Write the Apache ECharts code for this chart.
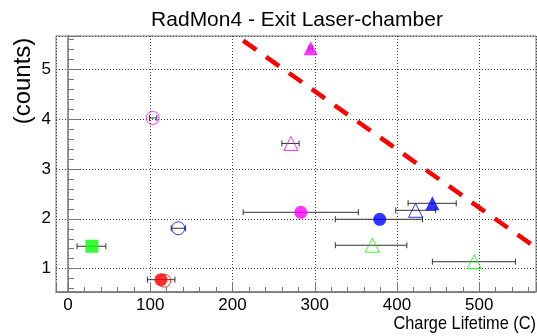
<!DOCTYPE html>
<html>
  <head>
    <meta charset="UTF-8" />
    <title>RadMon4 - Exit Laser-chamber</title>
    <script src="https://cdn.jsdelivr.net/npm/echarts@6/dist/echarts.min.js"></script>
  </head>
  <body style="margin: 0">
    <div id="main" style="width: 537px; height: 336px"></div>
    <script>
      // points: [charge lifetime, counts, x error low, x error high]
      var magentaOpenCircle = [[103, 4.02, 99, 108]];
      var magentaTriangle = [[295, 5.42, 293, 297]];
      var magentaOpenTriangle = [[271, 3.51, 260, 281]];
      var magentaCircle = [[283, 2.13, 213, 353]];
      var blueOpenCircle = [[134, 1.81, 125.5, 143]];
      var blueOpenTriangle = [[422.5, 2.17, 398.5, 447]];
      var blueCircle = [[379, 1.99, 325, 431]];
      var blueTriangle = [[443, 2.31, 413.5, 472]];
      var greenSquare = [[29, 1.45, 11, 46]];
      var greenOpenTriangle = [[370, 1.47, 325, 412], [494, 1.14, 443, 544]];
      var redOpenCircle = [[117, 0.76, 117, 117]];
      var redCircle = [[113, 0.78, 96.5, 130]];
      // dashed limit line
      var fitLine = [[213, 5.57], [569, 1.42]];

      var xRange = [-14.6, 569];
      var yRange = [0.533, 5.663];

      var font = '"Liberation Sans", Arial, sans-serif';
      var frameColor = '#777';

      var markerSets = [
        { data: magentaOpenCircle, color: '#ff00ff', symbol: 'circle', size: 13, open: true },
        { data: magentaTriangle, color: '#ff00ff', symbol: 'triangle', size: 14 },
        { data: magentaOpenTriangle, color: '#ff00ff', symbol: 'triangle', size: 14, open: true },
        { data: magentaCircle, color: '#ff00ff', symbol: 'circle', size: 13 },
        { data: blueOpenCircle, color: '#0000ff', symbol: 'circle', size: 13, open: true },
        { data: blueOpenTriangle, color: '#0000ff', symbol: 'triangle', size: 14, open: true },
        { data: blueCircle, color: '#0000ff', symbol: 'circle', size: 13 },
        { data: blueTriangle, color: '#0000ff', symbol: 'triangle', size: 14 },
        { data: greenSquare, color: '#00ff00', symbol: 'rect', size: 13 },
        { data: greenOpenTriangle, color: '#00ff00', symbol: 'triangle', size: 14, open: true },
        { data: redOpenCircle, color: '#ff0000', symbol: 'circle', size: 13, open: true },
        { data: redCircle, color: '#ff0000', symbol: 'circle', size: 13 },
      ];

      var errorPoints = [];
      markerSets.forEach(function (m) {
        m.data.forEach(function (p) {
          if (p[3] > p[2]) errorPoints.push(p);
        });
      });

      var chart = echarts.init(document.getElementById('main'));

      var series = [
        {
          type: 'custom',
          data: errorPoints,
          encode: { x: [0, 2, 3], y: 1 },
          z: 2,
          silent: true,
          renderItem: function (params, api) {
            var y = api.value(1);
            var lo = api.coord([api.value(2), y]);
            var hi = api.coord([api.value(3), y]);
            var st = { stroke: '#333', lineWidth: 1 };
            var cap = 3;
            return {
              type: 'group',
              children: [
                { type: 'line', shape: { x1: lo[0], y1: lo[1], x2: hi[0], y2: hi[1] }, style: st },
                { type: 'line', shape: { x1: lo[0], y1: lo[1] - cap, x2: lo[0], y2: lo[1] + cap }, style: st },
                { type: 'line', shape: { x1: hi[0], y1: hi[1] - cap, x2: hi[0], y2: hi[1] + cap }, style: st },
              ],
            };
          },
        },
        {
          type: 'line',
          data: fitLine,
          symbol: 'none',
          z: 4,
          silent: true,
          lineStyle: { color: '#ff0000', width: 4.5, type: [16, 12] },
        },
      ];

      markerSets.forEach(function (m) {
        series.push({
          type: 'scatter',
          data: m.data,
          symbol: m.symbol,
          symbolSize: m.size,
          z: 5,
          silent: true,
          itemStyle: m.open
            ? { color: 'rgba(0,0,0,0)', borderColor: m.color, borderWidth: 1 }
            : { color: m.color },
        });
      });

      // ticks on the major axes land on round numbers (100 and 1); the
      // extra axes only carry the small inner ticks (20 and 0.2)
      var option = {
        animation: false,
        backgroundColor: '#fff',
        title: {
          text: 'RadMon4 - Exit Laser-chamber',
          left: 292,
          top: 5,
          textAlign: 'center',
          textStyle: { fontFamily: font, fontSize: 21, fontWeight: 'normal', color: '#000' },
        },
        grid: {
          left: 56,
          right: 1,
          top: 36,
          bottom: 44,
          show: true,
          borderColor: frameColor,
          borderWidth: 1,
          outerBoundsMode: 'none',
        },
        xAxis: [
          {
            type: 'value',
            min: xRange[0],
            max: xRange[1],
            splitNumber: 6,
            axisLine: { lineStyle: { color: frameColor, width: 1.5 } },
            axisTick: { inside: true, length: 10, lineStyle: { color: frameColor } },
            axisLabel: {
              margin: 5,
              fontFamily: font,
              fontSize: 17,
              color: '#000',
              formatter: function (v) {
                return v % 100 === 0 ? String(v) : '';
              },
            },
            splitLine: { show: true, lineStyle: { color: '#444', type: [1, 2] } },
          },
          {
            type: 'value',
            position: 'bottom',
            min: xRange[0],
            max: xRange[1],
            splitNumber: 29,
            axisLine: { show: false },
            axisTick: { inside: true, length: 5, lineStyle: { color: frameColor } },
            axisLabel: { show: false },
            splitLine: { show: false },
          },
        ],
        yAxis: [
          {
            type: 'value',
            min: yRange[0],
            max: yRange[1],
            splitNumber: 5,
            axisLine: { show: true, lineStyle: { color: frameColor, width: 1.5 } },
            axisTick: { show: true, inside: true, length: 12, lineStyle: { color: frameColor } },
            axisLabel: {
              margin: 5,
              fontFamily: font,
              fontSize: 17,
              color: '#000',
              formatter: function (v) {
                return Math.abs(v - Math.round(v)) < 1e-6 ? String(Math.round(v)) : '';
              },
            },
            splitLine: { show: true, lineStyle: { color: '#444', type: [1, 2] } },
          },
          {
            type: 'value',
            position: 'left',
            min: yRange[0],
            max: yRange[1],
            splitNumber: 26,
            axisLine: { show: false },
            axisTick: { show: true, inside: true, length: 6, lineStyle: { color: frameColor } },
            axisLabel: { show: false },
            splitLine: { show: false },
          },
        ],
        graphic: [
          {
            type: 'text',
            x: 23,
            y: 81,
            rotation: Math.PI / 2,
            style: {
              text: '(counts)',
              font: '24px ' + font,
              fill: '#000',
              textAlign: 'center',
              textVerticalAlign: 'middle',
            },
          },
          {
            type: 'text',
            x: 536,
            y: 324,
            scaleX: 0.86,
            style: {
              text: 'Charge Lifetime (C)',
              font: '19px ' + font,
              fill: '#000',
              textAlign: 'right',
              textVerticalAlign: 'middle',
            },
          },
        ],
        series: series,
      };

      chart.setOption(option);
    </script>
  </body>
</html>
